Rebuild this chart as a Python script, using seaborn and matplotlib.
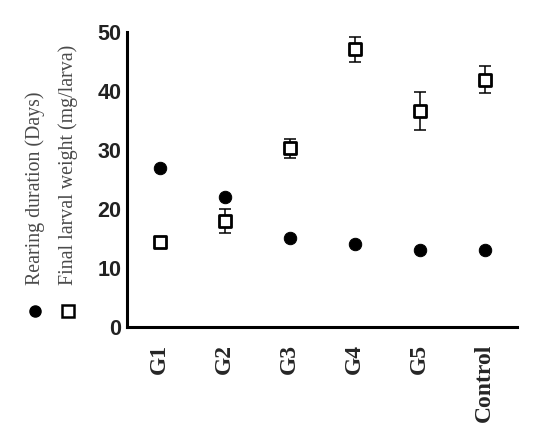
import matplotlib
matplotlib.use("Agg")
import matplotlib.pyplot as plt
import seaborn as sns
import pandas as pd
from matplotlib.lines import Line2D

groups = ["G1", "G2", "G3", "G4", "G5", "Control"]
rearing_days = [27.0, 22.0, 15.0, 14.0, 13.0, 13.0]
larval_weight = [14.4, 18.0, 30.3, 47.0, 36.6, 41.9]
weight_err = [0.0, 2.0, 1.6, 2.1, 3.2, 2.3]

df = pd.DataFrame({"group": groups, "days": rearing_days,
                   "weight": larval_weight, "err": weight_err})

sns.set_style("ticks")
plt.rcParams["font.family"] = ["Liberation Sans", "DejaVu Sans"]

fig = plt.figure(figsize=(5.5, 4.44), dpi=100)
ax = fig.add_axes([0.231, 0.2635, 0.709, 0.665])

ax.errorbar(df["group"], df["weight"], yerr=df["err"], fmt="none",
            ecolor="black", elinewidth=1.1, capsize=4.3, capthick=1.1, zorder=2)
sns.scatterplot(data=df, x="group", y="days", ax=ax, marker="o", s=80,
                color="black", edgecolor="black", zorder=3)
sns.scatterplot(data=df, x="group", y="weight", ax=ax, marker="s", s=85,
                facecolor="white", edgecolor="black", linewidth=2, zorder=3)

ax.set_xlim(-0.5, 5.5)
ax.set_ylim(0, 50)
ax.set_yticks([0, 10, 20, 30, 40, 50])
ax.set_xlabel("")
ax.set_ylabel("")
sns.despine(ax=ax)
for s in ["left", "bottom"]:
    ax.spines[s].set_linewidth(2.2)
    ax.spines[s].set_color("black")
ax.tick_params(axis="both", length=0)
ax.tick_params(axis="y", pad=4)
ax.tick_params(axis="x", pad=12)
for lab in ax.get_yticklabels():
    lab.set_fontsize(15.5)
    lab.set_fontweight("bold")
    lab.set_color("#222222")
for lab in ax.get_xticklabels():
    lab.set_fontsize(17)
    lab.set_fontweight("bold")
    lab.set_family("Liberation Serif")
    lab.set_rotation(90)
    lab.set_verticalalignment("top")

# rotated legend on the left
fig.text(35 / 550, 1 - 285 / 444, "Rearing duration (Days)", rotation=90,
         family="Liberation Serif", fontsize=14.3, color="#4a4a4a",
         ha="center", va="bottom")
fig.text(68 / 550, 1 - 285 / 444, "Final larval weight (mg/larva)", rotation=90,
         family="Liberation Serif", fontsize=14.3, color="#4a4a4a",
         ha="center", va="bottom")
fig.add_artist(Line2D([35 / 550], [1 - 311 / 444], marker="o", markersize=8,
                      color="black", transform=fig.transFigure))
fig.add_artist(Line2D([68 / 550], [1 - 311 / 444], marker="s", markersize=8,
                      markerfacecolor="white", markeredgecolor="black",
                      markeredgewidth=1.8, transform=fig.transFigure))

fig.savefig("out.png", dpi=100)
